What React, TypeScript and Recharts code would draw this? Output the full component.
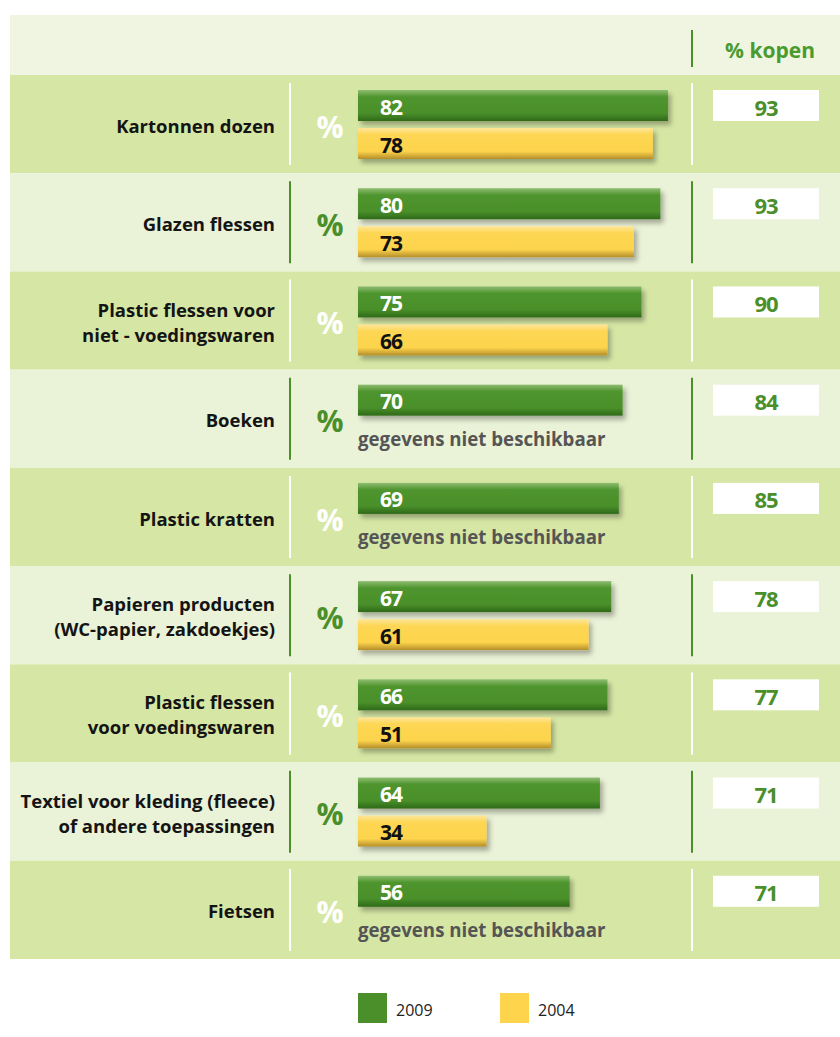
import { BarChart, Bar, XAxis, YAxis, ReferenceArea, LabelList } from "recharts";

// Categories (two-line labels use "\n")
const categories = [
  "Kartonnen dozen",
  "Glazen flessen",
  "Plastic flessen voor\nniet - voedingswaren",
  "Boeken",
  "Plastic kratten",
  "Papieren producten\n(WC-papier, zakdoekjes)",
  "Plastic flessen\nvoor voedingswaren",
  "Textiel voor kleding (fleece)\nof andere toepassingen",
  "Fietsen",
];
const values2009 = [82, 80, 75, 70, 69, 67, 66, 64, 56];
const values2004: (number | null)[] = [78, 73, 66, null, null, 61, 51, 34, null];
const kopenValues = [93, 93, 90, 84, 85, 78, 77, 71, 71];
const legendYears = ["2009", "2004"];
const missingText = "gegevens niet beschikbaar";
const headerText = "% kopen";

const GREEN = "#4a8f2a";
const YELLOW = "#fdd44c";
const ROW_DARK = "#d6e7a5";
const ROW_LIGHT = "#eaf2d7";
const HEADER_BG = "#f0f5e2";
const FONT = "'Open Sans', sans-serif";
const BAR_GAP = 7;

const data = categories.map((name, i) => ({
  name,
  y2009: values2009[i],
  y2004: values2004[i],
  kopen: kopenValues[i],
  note: values2004[i] == null ? missingText : "",
}));

function RowBand(props: any) {
  const { y, height, index } = props;
  return <rect x={10} y={y} width={830} height={height} fill={index % 2 === 0 ? ROW_DARK : ROW_LIGHT} />;
}

function RowTick(props: any) {
  const { y, payload } = props;
  const idx = payload?.index ?? props.index ?? 0;
  const dark = idx % 2 === 0;
  const accent = dark ? "#ffffff" : GREEN;
  const lines = String(payload.value).split("\n");
  const lineH = 25;
  const startY = y - ((lines.length - 1) * lineH) / 2;
  return (
    <g>
      {lines.map((l, i) => (
        <text
          key={i}
          x={275}
          y={startY + i * lineH + 1}
          textAnchor="end"
          dominantBaseline="central"
          fontFamily={FONT}
          fontSize={18.5}
          fontWeight={700}
          fill="#141414"
        >
          {l}
        </text>
      ))}
      <line x1={290} x2={290} y1={y - 41} y2={y + 41} stroke={accent} strokeWidth={2} />
      <text
        x={330}
        y={y + 2}
        textAnchor="middle"
        dominantBaseline="central"
        fontFamily={FONT}
        fontSize={30}
        fontWeight={700}
        fill={accent}
      >
        %
      </text>
      <line x1={692} x2={692} y1={y - 41} y2={y + 41} stroke={accent} strokeWidth={2} />
    </g>
  );
}

function GlossyBar(props: any) {
  const { x, y, width, height, fill } = props;
  if (!width || width <= 0) return null;
  return <rect x={x} y={y} width={width} height={height} fill={fill} filter="url(#barShadow)" />;
}

const box = (p: any) => p.viewBox ?? p;

const valueLabel = (color: string) => (props: any) => {
  const { x, y, height } = box(props);
  if (props.value == null) return null;
  return (
    <text
      x={x + 22}
      y={y + height / 2 + 1}
      dominantBaseline="central"
      fontFamily={FONT}
      fontSize={21}
      fontWeight={700}
      letterSpacing={-1}
      fill={color}
    >
      {props.value}
    </text>
  );
};

function NoteLabel(props: any) {
  const { x, y, height } = box(props);
  if (!props.value) return null;
  return (
    <text
      x={x}
      y={y + height + BAR_GAP + height / 2}
      dominantBaseline="central"
      fontFamily={FONT}
      fontSize={18.7}
      fontWeight={700}
      fill="#555555"
    >
      {props.value}
    </text>
  );
}

function KopenLabel(props: any) {
  const { y, height } = box(props);
  return (
    <g>
      <rect x={713} y={y} width={106} height={height} fill="#ffffff" />
      <text
        x={766}
        y={y + height / 2 + 1}
        textAnchor="middle"
        dominantBaseline="central"
        fontFamily={FONT}
        fontSize={22}
        fontWeight={700}
        letterSpacing={-1}
        fill={GREEN}
      >
        {props.value}
      </text>
    </g>
  );
}

export default function App() {
  return (
    <div style={{ position: "absolute", left: 0, top: 0, width: 840, height: 1037, background: "#fff", fontFamily: FONT }}>
      {/* header band */}
      <div style={{ position: "absolute", left: 10, top: 15, width: 830, height: 60, background: HEADER_BG }}>
        <div style={{ position: "absolute", left: 681, top: 15, width: 2, height: 37, background: GREEN }} />
        <div
          style={{
            position: "absolute",
            left: 700,
            top: 20,
            width: 120,
            textAlign: "center",
            color: "#4a9a2e",
            fontWeight: 700,
            fontSize: 21,
            lineHeight: "30px",
          }}
        >
          {headerText}
        </div>
      </div>

      <div style={{ position: "absolute", left: 0, top: 0 }}>
        <BarChart
          width={840}
          height={1037}
          layout="vertical"
          data={data}
          margin={{ top: 75, right: 104, bottom: 78, left: 58 }}
          barCategoryGap={15}
          barGap={BAR_GAP}
        >
          <defs>
            <linearGradient id="grad2009" x1="0" y1="0" x2="0" y2="1">
              <stop offset="0%" stopColor="#8fbd72" />
              <stop offset="22%" stopColor="#4f952e" />
              <stop offset="75%" stopColor="#4a8f2a" />
              <stop offset="100%" stopColor="#2e6918" />
            </linearGradient>
            <linearGradient id="grad2004" x1="0" y1="0" x2="0" y2="1">
              <stop offset="0%" stopColor="#fee69a" />
              <stop offset="22%" stopColor="#fdd653" />
              <stop offset="75%" stopColor="#fdd44c" />
              <stop offset="100%" stopColor="#b48e2a" />
            </linearGradient>
            <filter id="barShadow" x="-5%" y="-30%" width="115%" height="180%">
              <feDropShadow dx="3" dy="4" stdDeviation="2.5" floodColor="#000" floodOpacity="0.3" />
            </filter>
          </defs>
          {categories.map((c, i) => (
            <ReferenceArea key={c} y1={c} y2={c} shape={<RowBand index={i} />} ifOverflow="visible" />
          ))}
          <XAxis type="number" domain={[0, 100]} hide />
          <YAxis
            type="category"
            dataKey="name"
            width={300}
            axisLine={false}
            tickLine={false}
            interval={0}
            tick={<RowTick />}
          />
          <Bar dataKey="y2009" fill="url(#grad2009)" shape={<GlossyBar />} isAnimationActive={false}>
            <LabelList dataKey="y2009" content={valueLabel("#ffffff")} />
            <LabelList dataKey="note" content={NoteLabel} />
            <LabelList dataKey="kopen" content={KopenLabel} />
          </Bar>
          <Bar dataKey="y2004" fill="url(#grad2004)" shape={<GlossyBar />} isAnimationActive={false}>
            <LabelList dataKey="y2004" content={valueLabel("#111111")} />
          </Bar>
        </BarChart>
      </div>

      {/* legend */}
      <div style={{ position: "absolute", left: 358, top: 993, display: "flex", alignItems: "center" }}>
        {legendYears.map((yr, i) => (
          <div key={yr} style={{ display: "flex", alignItems: "center", width: 142 }}>
            <div style={{ width: 29, height: 30, background: i === 0 ? GREEN : YELLOW }} />
            <span style={{ marginLeft: 9, fontSize: 16, color: "#222", marginTop: 4 }}>{yr}</span>
          </div>
        ))}
      </div>
    </div>
  );
}
